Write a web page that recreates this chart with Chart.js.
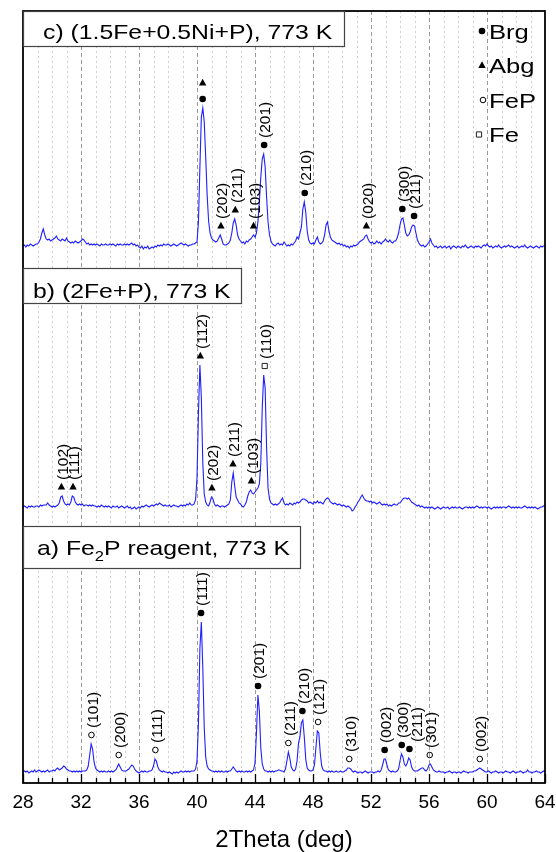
<!DOCTYPE html>
<html>
<head>
<meta charset="utf-8">
<script src="https://cdn.jsdelivr.net/npm/chart.js@4.4.1/dist/chart.umd.min.js"></script>
<style>
html,body{margin:0;padding:0;background:#fff;}
canvas{display:block;}
</style>
</head>
<body>
<canvas id="xrd" width="556" height="852" style="width:556px;height:852px"></canvas>
<script>
// ---------------- DATA ----------------
// 2Theta sampling (deg)
const angles = [
28,28.1,28.2,28.3,28.4,28.5,28.6,28.7,28.8,28.9,
29,29.1,29.2,29.3,29.4,29.5,29.6,29.7,29.8,29.9,
30,30.1,30.2,30.3,30.4,30.5,30.6,30.7,30.8,30.9,
31,31.1,31.2,31.3,31.4,31.5,31.6,31.7,31.8,31.9,
32,32.1,32.2,32.3,32.4,32.5,32.6,32.7,32.8,32.9,
33,33.1,33.2,33.3,33.4,33.5,33.6,33.7,33.8,33.9,
34,34.1,34.2,34.3,34.4,34.5,34.6,34.7,34.8,34.9,
35,35.1,35.2,35.3,35.4,35.5,35.6,35.7,35.8,35.9,
36,36.1,36.2,36.3,36.4,36.5,36.6,36.7,36.8,36.9,
37,37.1,37.2,37.3,37.4,37.5,37.6,37.7,37.8,37.9,
38,38.1,38.2,38.3,38.4,38.5,38.6,38.7,38.8,38.9,
39,39.1,39.2,39.3,39.4,39.5,39.6,39.7,39.8,39.9,
40,40.1,40.2,40.3,40.4,40.5,40.6,40.7,40.8,40.9,
41,41.1,41.2,41.3,41.4,41.5,41.6,41.7,41.8,41.9,
42,42.1,42.2,42.3,42.4,42.5,42.6,42.7,42.8,42.9,
43,43.1,43.2,43.3,43.4,43.5,43.6,43.7,43.8,43.9,
44,44.1,44.2,44.3,44.4,44.5,44.6,44.7,44.8,44.9,
45,45.1,45.2,45.3,45.4,45.5,45.6,45.7,45.8,45.9,
46,46.1,46.2,46.3,46.4,46.5,46.6,46.7,46.8,46.9,
47,47.1,47.2,47.3,47.4,47.5,47.6,47.7,47.8,47.9,
48,48.1,48.2,48.3,48.4,48.5,48.6,48.7,48.8,48.9,
49,49.1,49.2,49.3,49.4,49.5,49.6,49.7,49.8,49.9,
50,50.1,50.2,50.3,50.4,50.5,50.6,50.7,50.8,50.9,
51,51.1,51.2,51.3,51.4,51.5,51.6,51.7,51.8,51.9,
52,52.1,52.2,52.3,52.4,52.5,52.6,52.7,52.8,52.9,
53,53.1,53.2,53.3,53.4,53.5,53.6,53.7,53.8,53.9,
54,54.1,54.2,54.3,54.4,54.5,54.6,54.7,54.8,54.9,
55,55.1,55.2,55.3,55.4,55.5,55.6,55.7,55.8,55.9,
56,56.1,56.2,56.3,56.4,56.5,56.6,56.7,56.8,56.9,
57,57.1,57.2,57.3,57.4,57.5,57.6,57.7,57.8,57.9,
58,58.1,58.2,58.3,58.4,58.5,58.6,58.7,58.8,58.9,
59,59.1,59.2,59.3,59.4,59.5,59.6,59.7,59.8,59.9,
60,60.1,60.2,60.3,60.4,60.5,60.6,60.7,60.8,60.9,
61,61.1,61.2,61.3,61.4,61.5,61.6,61.7,61.8,61.9,
62,62.1,62.2,62.3,62.4,62.5,62.6,62.7,62.8,62.9,
63,63.1,63.2,63.3,63.4,63.5,63.6,63.7,63.8,63.9,
64];

// a) Fe2P reagent, 773 K  (intensity, a.u.)
const intensityA = [
1,2,1,2,0,1,2,1,3,1,
2,3,2,1,2,1,2,3,1,2,
2,3,2,4,5,3,4,5,7,6,
4,3,2,2,1,2,1,2,1,2,
1,2,2,2,3,7,18,29,24,11,
5,3,2,1,2,1,2,1,1,2,
1,2,1,2,3,6,9,6,3,2,
2,2,3,4,6,8,7,4,2,1,
0,1,2,1,2,1,1,2,2,3,
7,14,12,6,3,2,1,2,1,1,
0,1,0,-1,1,0,1,0,1,2,
1,1,2,1,2,1,2,2,2,4,
12,50,125,151,105,45,16,7,4,3,
2,2,1,2,1,2,1,2,1,1,
2,1,2,2,4,6,4,2,1,2,
1,2,1,1,2,1,2,1,2,3,
10,40,78,62,25,9,4,2,2,1,
2,1,2,1,2,2,3,3,2,2,
1,4,12,21,15,6,3,2,4,12,
30,36,50,53,36,14,5,3,2,2,
3,8,25,42,40,20,7,3,2,2,
1,2,1,2,1,1,2,1,1,2,
1,1,2,3,5,5,4,2,1,2,
1,0,1,1,0,1,2,1,0,1,
1,1,0,1,1,2,1,3,8,14,
14,8,3,2,1,2,1,1,2,4,
12,19,16,9,7,10,15,13,6,3,
2,2,2,3,4,5,5,3,2,4,
8,9,6,3,2,1,1,2,1,1,
1,0,1,1,2,1,0,1,1,0,
1,1,0,1,2,1,1,0,1,1,
1,2,2,3,4,5,4,3,2,1,
1,2,1,0,1,1,2,1,0,1,
1,0,1,2,1,1,0,1,2,1,
0,1,1,2,1,0,1,1,3,1,
1,0,1,1,2,1,1,0,1,2,
1];

// b) (2Fe+P), 773 K
const intensityB = [
1,2,1,0,2,1,2,1,1,2,
2,1,3,2,3,3,3,5,3,2,
1,2,1,2,3,5,11,12,7,4,
3,4,3,6,12,11,6,4,3,4,
3,4,2,3,3,2,3,2,3,2,
2,1,2,1,3,2,1,2,1,2,
1,0,2,1,1,2,0,1,2,1,
0,1,2,0,1,-1,0,1,-1,0,
1,0,2,1,2,3,2,1,2,3,
2,3,4,3,5,4,3,2,3,2,
2,3,1,2,3,2,2,1,2,3,
2,3,2,4,3,5,3,3,4,8,
30,95,143,110,45,14,6,3,2,6,
11,9,4,2,3,2,1,2,2,1,
2,3,4,8,26,35,22,11,8,5,
4,2,1,3,6,12,16,18,15,14,
16,18,20,24,45,100,133,120,60,20,
9,5,4,3,4,3,4,5,8,10,
5,3,4,3,5,4,3,5,4,6,
5,6,8,9,9,8,7,5,6,5,
4,6,5,7,5,6,5,4,7,9,
10,9,6,5,4,5,4,3,4,3,
2,3,2,1,2,1,0,-3,-2,1,
3,6,8,11,13,10,8,7,7,6,
7,5,6,5,4,5,6,4,3,4,
3,4,2,3,2,3,4,3,3,5,
5,7,9,10,10,9,10,8,6,5,
4,3,2,3,1,2,1,0,1,0,
1,0,1,0,-1,0,1,0,-1,0,
1,0,0,1,-1,0,1,0,1,0,
0,1,0,-1,0,1,1,0,1,0,
1,0,1,2,1,0,1,0,1,1,
0,1,0,-1,0,1,0,1,0,1,
0,1,1,0,1,2,1,0,1,0,
1,0,1,0,0,1,2,1,0,1,
0,1,0,1,0,-1,0,1,1,2,
3];

// c) (1.5Fe+0.5Ni+P), 773 K
const intensityC = [
1,2,0,2,1,3,2,1,2,3,
3,5,8,14,18,12,8,7,8,6,
7,8,9,11,8,7,6,8,7,6,
9,6,5,4,5,4,6,5,4,5,
6,8,7,5,3,4,2,3,2,3,
2,3,2,1,3,2,2,3,2,2,
3,2,3,2,1,3,2,3,2,2,
3,2,3,2,3,4,2,3,1,2,
0,-1,1,-2,0,-1,1,-2,-1,0,
-1,1,0,2,1,2,1,3,2,2,
3,2,1,2,3,2,1,2,3,4,
3,2,3,2,1,2,2,3,3,4,
5,25,80,130,139,125,90,52,26,14,
9,7,6,5,6,9,12,8,3,2,
2,3,4,7,14,24,28,22,12,8,
6,4,5,3,6,5,7,8,10,12,
10,14,25,45,70,88,93,80,50,25,
12,6,3,2,1,3,4,2,3,2,
5,3,1,2,1,3,2,4,6,10,
8,14,20,38,45,35,16,7,4,3,
4,3,7,10,5,3,4,6,12,22,
25,16,10,7,6,5,4,3,4,2,
3,1,2,0,1,-1,1,0,2,1,
2,3,5,6,7,8,11,12,8,5,
4,5,3,4,6,4,5,3,5,6,
8,6,5,7,5,4,6,6,9,14,
22,28,29,22,14,11,12,15,20,22,
21,14,7,4,2,1,2,0,1,3,
5,8,4,2,0,1,-1,0,1,-1,
0,1,-1,0,1,-2,0,1,0,-1,
1,0,-1,1,0,2,0,-1,0,1,
0,-1,1,0,1,0,-1,1,2,1,
3,1,0,1,-1,0,1,0,2,0,
-1,0,1,0,1,2,0,1,0,-1,
0,1,-1,0,1,0,2,0,-1,0,
1,0,-1,0,1,0,-1,1,0,1,
1];

// vertical stacking offsets of the three patterns (a.u.)
const offsetA = 10;
const offsetB = 275;
const offsetC = 536;

// x-axis tick labels
const xTicks = [28, 32, 36, 40, 44, 48, 52, 56, 60, 64];

// phase legend
const phases = ['Brg', 'Abg', 'FeP', 'Fe'];

// peak assignments: angle, phase(s), (hkl)
const peaksA  = [32.72, 34.6, 37.13, 40.28, 44.21, 46.3, 47.27, 48.35, 50.5, 52.94, 54.12, 54.65, 56.05, 59.5];
const phasesA = [['FeP'],['FeP'],['FeP'],['Brg'],['Brg'],['FeP'],['Brg'],['FeP'],['FeP'],['Brg'],['Brg'],['Brg'],['FeP'],['FeP']];
const hklA    = ['(101)','(200)','(111)','(111)','(201)','(211)','(210)','(121)','(310)','(002)','(300)','(211)','(301)','(002)'];

const peaksB  = [30.65, 31.45, 40.23, 41.03, 42.48, 43.75, 44.67];
const phasesB = [['Abg'],['Abg'],['Abg'],['Abg'],['Abg'],['Abg'],['Fe']];
const hklB    = ['(102)','(111)','(112)','(202)','(211)','(103)','(110)'];

const peaksC  = [40.39, 41.65, 42.64, 43.9, 44.63, 47.43, 51.68, 54.16, 54.97];
const phasesC = [['Brg','Abg'],['Abg'],['Abg'],['Abg'],['Brg'],['Brg'],['Abg'],['Brg'],['Brg']];
const hklC    = ['','(202)','(211)','(103)','(201)','(210)','(020)','(300)','(211)'];

const panelTitles = [
  [['c) (1.5Fe+0.5Ni+P), 773 K', '']],
  [['b) (2Fe+P), 773 K', '']],
  [['a) Fe', ''], ['2', 'sub'], ['P reagent, 773 K', '']]
];

// ---------------- CHART ----------------
const FONT = '"Liberation Sans", Arial, Helvetica, sans-serif';
const LINE = '#1f1fff';

function toPoints(vals, off) {
  return angles.map((a, i) => ({ x: a, y: vals[i] + off }));
}

const patterns = [
  { vals: intensityC, off: offsetC, peaks: peaksC, ph: phasesC, hkl: hklC, key: 'c' },
  { vals: intensityB, off: offsetB, peaks: peaksB, ph: phasesB, hkl: hklB, key: 'b' },
  { vals: intensityA, off: offsetA, peaks: peaksA, ph: phasesA, hkl: hklA, key: 'a' }
];

function drawMarker(ctx, type, x, y) {
  ctx.save();
  ctx.fillStyle = '#000';
  ctx.strokeStyle = '#000';
  ctx.lineWidth = 1;
  ctx.setLineDash([]);
  ctx.beginPath();
  if (type === 'Brg') {
    ctx.arc(x, y, 3.3, 0, Math.PI * 2);
    ctx.fill();
  } else if (type === 'Abg') {
    ctx.moveTo(x, y - 4.2);
    ctx.lineTo(x + 3.7, y + 2.6);
    ctx.lineTo(x - 3.7, y + 2.6);
    ctx.closePath();
    ctx.fill();
  } else if (type === 'FeP') {
    ctx.arc(x, y, 2.8, 0, Math.PI * 2);
    ctx.stroke();
  } else if (type === 'Fe') {
    ctx.strokeStyle = '#222';
    ctx.rect(x - 2.6, y - 2.6, 5.2, 5.2);
    ctx.stroke();
  }
  ctx.restore();
}

const decor = {
  id: 'decor',
  beforeDatasetsDraw(chart, args, opts) {
    const { ctx, chartArea: ca, scales: { x } } = chart;
    ctx.save();
    ctx.lineWidth = 1;
    for (let v = x.min + 1; v < x.max; v++) {
      const px = Math.round(x.getPixelForValue(v)) + 0.5;
      const major = v % 4 === 0;
      ctx.strokeStyle = major ? '#9a9a9a' : '#d0d0d0';
      ctx.setLineDash(major ? [4, 3] : [2, 3]);
      ctx.beginPath();
      ctx.moveTo(px, ca.top);
      ctx.lineTo(px, ca.bottom);
      ctx.stroke();
    }
    ctx.restore();
  },
  afterDatasetsDraw(chart, args, opts) {
    const { ctx, chartArea: ca, scales: { x, y } } = chart;
    ctx.save();
    ctx.setLineDash([]);

    // peak markers + (hkl) labels
    patterns.forEach(p => {
      p.peaks.forEach((ang, k) => {
        let top = -Infinity;
        angles.forEach((a, i) => { if (Math.abs(a - ang) <= 0.151 && p.vals[i] > top) top = p.vals[i]; });
        const px = x.getPixelForValue(ang);
        const py = y.getPixelForValue(top + p.off);
        let my = py - opts.markerGap;
        p.ph[k].forEach((t, j) => {
          if (j > 0) my -= opts.markerStack;
          drawMarker(ctx, t, px, my);
        });
        if (p.hkl[k]) {
          const nudge = (opts.nudges[p.key + ang] || 0);
          ctx.save();
          ctx.translate(px + opts.textDx + nudge, my - opts.textGap);
          ctx.rotate(-Math.PI / 2);
          ctx.font = opts.hklFont;
          ctx.fillStyle = '#000';
          ctx.textAlign = 'left';
          ctx.textBaseline = 'middle';
          ctx.fillText(p.hkl[k], 0, 0);
          ctx.restore();
        }
      });
    });

    // frame
    ctx.strokeStyle = '#000';
    ctx.lineWidth = 1.8;
    ctx.strokeRect(ca.left, ca.top, ca.right - ca.left, ca.bottom - ca.top);

    // inward ticks
    ctx.lineWidth = 1.3;
    for (let v = x.min; v <= x.max; v++) {
      const px = Math.round(x.getPixelForValue(v)) + 0.5;
      const len = v % 4 === 0 ? 9 : 5;
      ctx.beginPath();
      ctx.moveTo(px, ca.bottom);
      ctx.lineTo(px, ca.bottom - len);
      ctx.stroke();
    }

    // panel title boxes
    opts.boxes.forEach((b, k) => {
      ctx.fillStyle = '#fff';
      ctx.fillRect(ca.left, b.top, b.w, b.h);
      ctx.strokeStyle = '#444';
      ctx.lineWidth = 1.2;
      ctx.strokeRect(ca.left + 0.5, b.top + 0.5, b.w, b.h);
      ctx.save();
      ctx.translate(ca.left + b.tx, b.base);
      ctx.scale(opts.titleScale, 1);
      ctx.fillStyle = '#000';
      ctx.textBaseline = 'alphabetic';
      ctx.textAlign = 'left';
      let cx = 0;
      panelTitles[k].forEach(([txt, kind]) => {
        if (kind === 'sub') {
          ctx.font = opts.subFont;
          ctx.fillText(txt, cx, opts.subDrop);
        } else {
          ctx.font = opts.titleFont;
          ctx.fillText(txt, cx, 0);
        }
        cx += ctx.measureText(txt).width;
      });
      ctx.restore();
    });

    // phase legend
    phases.forEach((ph, k) => {
      const cy = ca.top + opts.legendRows[k];
      drawMarker(ctx, ph, ca.right - opts.legendMarkerDx[k], cy);
      ctx.save();
      ctx.translate(ca.right - opts.legendTextDx, cy + opts.legendBaseDrop);
      ctx.scale(opts.legendScale, 1);
      ctx.font = opts.legendFont;
      ctx.fillStyle = '#000';
      ctx.textAlign = 'left';
      ctx.textBaseline = 'alphabetic';
      ctx.fillText(ph, 0, 0);
      ctx.restore();
    });

    ctx.restore();
  }
};

new Chart(document.getElementById('xrd'), {
  type: 'line',
  data: {
    datasets: patterns.map(p => ({
      data: toPoints(p.vals, p.off),
      borderColor: LINE,
      borderWidth: 1.1,
      pointRadius: 0,
      tension: 0,
      fill: false
    }))
  },
  options: {
    responsive: false,
    animation: false,
    devicePixelRatio: 1,
    layout: { padding: { left: 23, right: 11, top: 11, bottom: 0 } },
    plugins: {
      legend: { display: false },
      tooltip: { enabled: false },
      decor: {
        markerGap: 9,
        markerStack: 16,
        textGap: 7,
        textDx: 2,
        nudges: { 'a54.65': 6 },
        hklFont: '15.5px ' + FONT,
        titleFont: '21px ' + FONT,
        subFont: '14px ' + FONT,
        subDrop: 6,
        titleScale: 1.18,
        boxes: [
          { top: 11, h: 35, w: 321, tx: 20, base: 39 },
          { top: 268, h: 35, w: 218, tx: 10, base: 298 },
          { top: 526, h: 42, w: 277, tx: 14, base: 555 }
        ],
        legendRows: [20, 54.5, 89, 123.5],
        legendMarkerDx: [63, 63, 62, 66],
        legendTextDx: 56,
        legendBaseDrop: 7.5,
        legendScale: 1.22,
        legendFont: '21px ' + FONT
      }
    },
    scales: {
      x: {
        type: 'linear',
        min: 28,
        max: 64,
        afterBuildTicks: axis => { axis.ticks = xTicks.map(v => ({ value: v })); },
        grid: {
          display: true,
          drawOnChartArea: false,
          drawTicks: true,
          tickLength: 10,
          color: 'rgba(0,0,0,0)',
          tickColor: 'rgba(0,0,0,0)'
        },
        border: { display: false },
        ticks: {
          autoSkip: false,
          maxRotation: 0,
          padding: 0,
          color: '#000',
          font: { family: FONT, size: 19, lineHeight: 1 }
        },
        title: {
          display: true,
          text: '2Theta (deg)',
          color: '#000',
          font: { family: FONT, size: 24, lineHeight: 1 },
          padding: { top: 16, bottom: 0 }
        }
      },
      y: {
        display: false,
        min: 0,
        max: 772
      }
    }
  },
  plugins: [decor]
});
</script>
</body>
</html>
